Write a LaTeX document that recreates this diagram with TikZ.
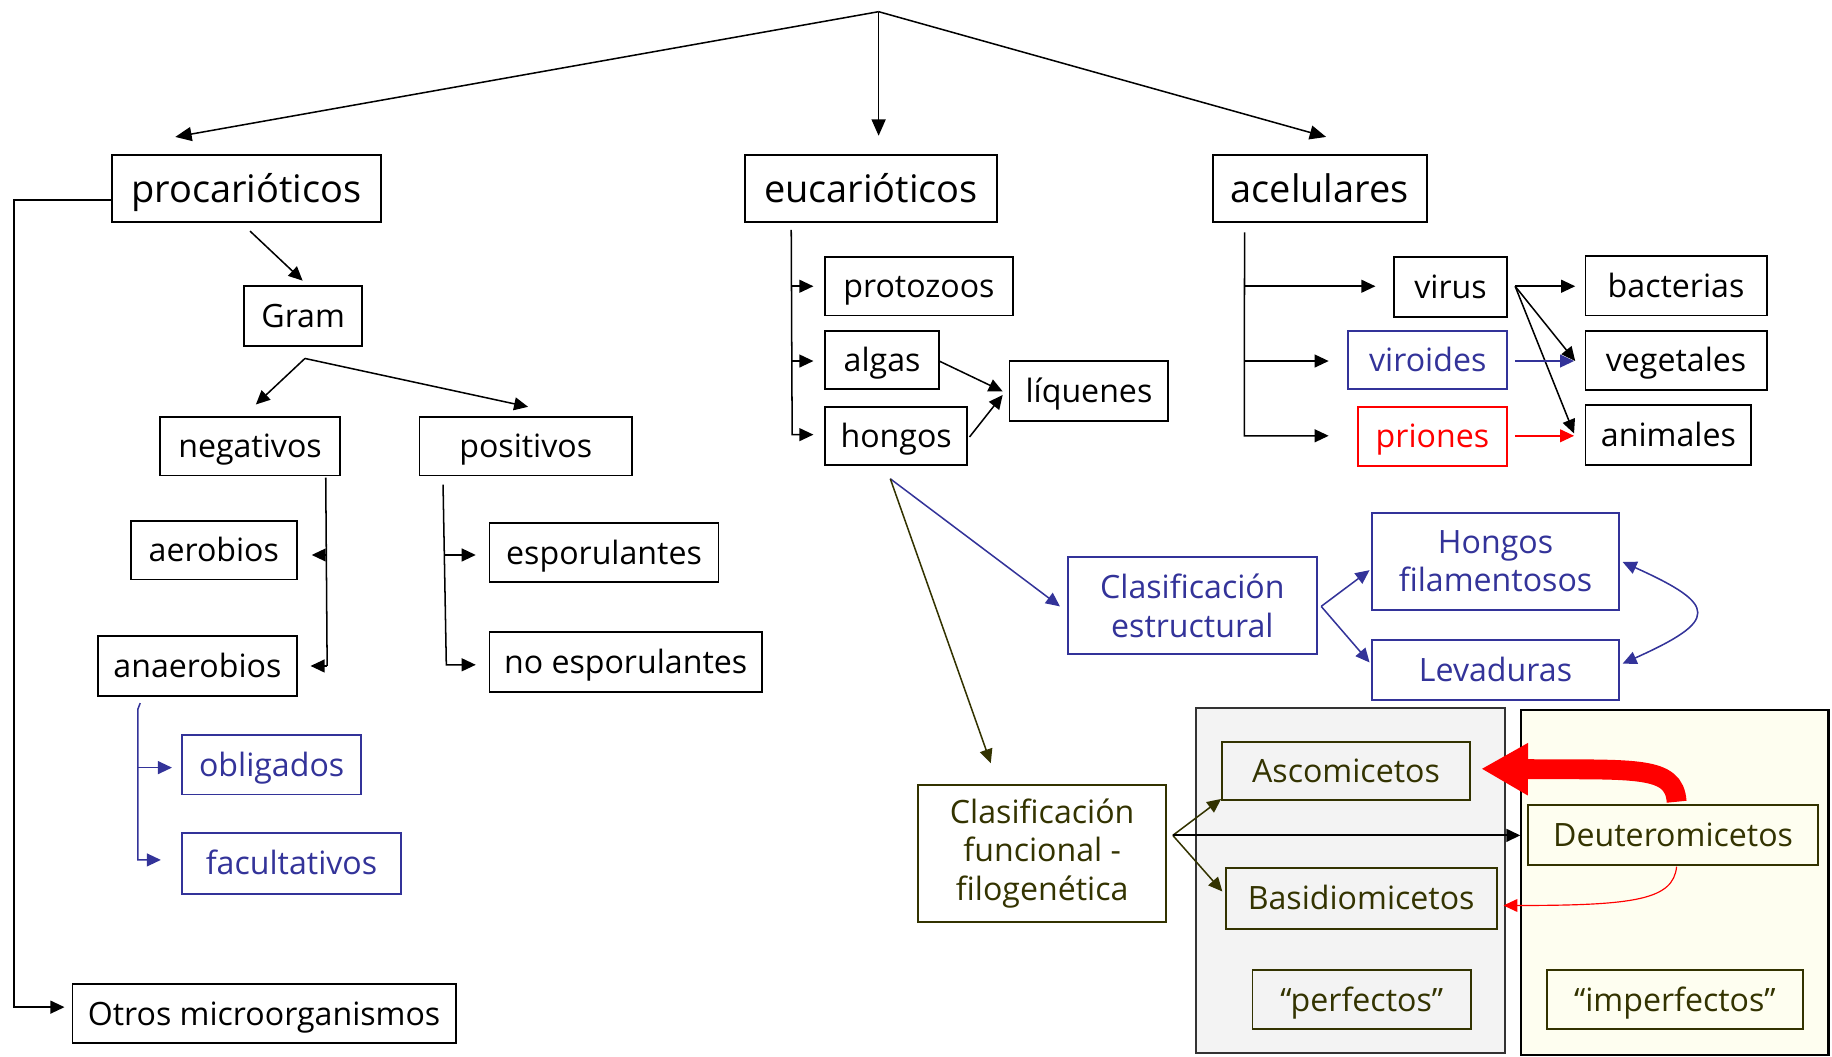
\documentclass[tikz,border=0pt]{standalone}
\usepackage{fontspec}
\setmainfont{Open Sans}
\usetikzlibrary{arrows.meta,calc}
\definecolor{navy}{HTML}{333399}
\definecolor{olivetxt}{HTML}{333300}
\definecolor{panelgray}{HTML}{F3F3F3}
\definecolor{panelcream}{HTML}{FEFEF0}
\newcommand\fsbig{\fontsize{32.5}{36}\selectfont}
\newcommand\fsmid{\fontsize{27.5}{33}\selectfont}
\begin{document}
\begin{tikzpicture}[x=1pt,y=-1pt,
  box/.style={draw, line width=1.6pt, inner sep=0pt, font=\fsmid,
    text height=26pt, text depth=6.3pt},
  multi/.style={align=center, text height=, text depth=},
  bigbox/.style={box, font=\fsbig, text height=30.8pt, text depth=7.4pt},
  bluebox/.style={box, draw=navy, text=navy},
  redbox/.style={box, draw=red, text=red},
  olivebox/.style={box, draw=olivetxt, text=olivetxt},
  panel/.style={draw, line width=1.8pt, inner sep=0pt},
  link/.style={line width=1.3pt},
  conn/.style={link, -{Triangle[length=12pt,width=11pt]}},
  topconn/.style={link, -{Triangle[length=14pt,width=12pt]}},
]
\useasboundingbox (0,0) rectangle (1568,904);

% background panels for the functional classification
\node[panel, draw=black!80, fill=panelgray, minimum width=264pt, minimum height=295pt] (pperf) at (1156,753.5) {};
\node[panel, draw=black, fill=panelcream, minimum width=263pt, minimum height=295pt] (pimperf) at (1433.5,755.5) {};

% first level
\node[bigbox, minimum width=230pt, minimum height=57pt] (proc) at (211,161.5) {procarióticos};
\node[bigbox, minimum width=215pt, minimum height=57pt] (euc) at (745.5,161.5) {eucarióticos};
\node[bigbox, minimum width=183pt, minimum height=57pt] (acel) at (1129.5,161.5) {acelulares};

% prokaryotes
\node[box, minimum width=101pt, minimum height=51pt] (gram) at (259.5,270.5) {Gram};
\node[box, minimum width=154pt, minimum height=50pt] (neg) at (214,382) {negativos};
\node[box, minimum width=182pt, minimum height=50pt] (pos) at (450,382) {positivos};
\node[box, minimum width=142pt, minimum height=50pt] (aer) at (183,471) {aerobios};
\node[box, minimum width=170pt, minimum height=52pt] (anaer) at (169,570) {anaerobios};
\node[box, minimum width=196pt, minimum height=50pt] (espor) at (517,473) {esporulantes};
\node[box, minimum width=233pt, minimum height=51pt] (noesp) at (535.5,566.5) {no esporulantes};
\node[bluebox, minimum width=153pt, minimum height=51pt] (oblig) at (232.5,654.5) {obligados};
\node[bluebox, minimum width=187pt, minimum height=52pt] (facult) at (249.5,739) {facultativos};
\node[box, minimum width=328pt, minimum height=51pt] (otros) at (226,867.5) {Otros microorganismos};

% eukaryotes
\node[box, minimum width=161pt, minimum height=50pt] (proto) at (786.5,245) {protozoos};
\node[box, minimum width=98pt, minimum height=50pt] (algas) at (755,308) {algas};
\node[box, minimum width=122pt, minimum height=50pt] (hongos) at (767,373) {hongos};
\node[box, minimum width=136pt, minimum height=51pt] (liq) at (932,334.5) {líquenes};

% acellular agents
\node[box, minimum width=97pt, minimum height=51pt] (virus) at (1241.5,245.5) {virus};
\node[bluebox, minimum width=136pt, minimum height=50pt] (viro) at (1222,308) {viroides};
\node[redbox, minimum width=128pt, minimum height=51pt] (prion) at (1226,373.5) {priones};
\node[box, minimum width=155pt, minimum height=51pt] (bact) at (1434.5,244.5) {bacterias};
\node[box, minimum width=155pt, minimum height=51pt] (veg) at (1434.5,308.5) {vegetales};
\node[box, minimum width=142pt, minimum height=51pt] (anim) at (1428,372.5) {animales};

% fungi
\node[bluebox, multi, minimum width=213pt, minimum height=83pt] (cest) at (1020.5,518.5) {Clasificación\\estructural};
\node[bluebox, multi, minimum width=212pt, minimum height=83pt] (hfil) at (1280,480.5) {Hongos\\filamentosos};
\node[bluebox, minimum width=212pt, minimum height=51pt] (lev) at (1280,573.5) {Levaduras};
\node[olivebox, multi, minimum width=212pt, minimum height=117pt] (cfun) at (892,730.5) {Clasificación\\funcional -\\filogenética};
\node[olivebox, fill=panelgray, minimum width=212pt, minimum height=50pt] (asco) at (1152,660) {Ascomicetos};
\node[olivebox, fill=panelgray, minimum width=232pt, minimum height=52pt] (basid) at (1165,769) {Basidiomicetos};
\node[olivebox, fill=panelgray, minimum width=187pt, minimum height=51pt] (perf) at (1165.5,855.5) {“perfectos”};
\node[olivebox, fill=panelcream, minimum width=248pt, minimum height=51pt] (deut) at (1432,714.5) {Deuteromicetos};
\node[olivebox, fill=panelcream, minimum width=219pt, minimum height=51pt] (imperf) at (1433.5,855.5) {“imperfectos”};

% top split
\coordinate (apex) at (752,10);
\draw[topconn] (apex) -- ($(proc.north)+(-61,-15)$);
\draw[topconn] (apex) -- ($(euc.north)+(6.5,-16)$);
\draw[topconn] (apex) -- ($(acel.north)+(5.5,-15)$);

% prokaryote branches
\draw[conn] ($(proc.west)+(0,9.5)$) -- (12,171) -- (12,862) -- ($(otros.west)+(-6,-5.5)$);
\draw[conn] ($(proc.south)+(3,7)$) -- ($(gram.north)+(-0.5,-4)$);
\coordinate (gsplit) at ($(gram.south)+(1.5,10)$);
\draw[conn] (gsplit) -- ($(neg.north)+(5,-10)$);
\draw[conn] (gsplit) -- ($(pos.north)+(2,-8)$);

\draw[link] ($(neg.south east)+(-13,1)$) -- (280,570);
\draw[conn] (279,475) -- ($(aer.east)+(12,4)$);
\draw[conn] (280,570) -- ($(anaer.east)+(11,0)$);

\draw[conn] ($(pos.south west)+(21,7)$) -- (382,569) -- ($(noesp.west)+(-11,2.5)$);
\draw[conn] (381,475) -- ($(espor.west)+(-11,2)$);

\draw[conn, navy] ($(anaer.south)+(-49,5)$) -- (118,607) -- (118,736) -- ($(facult.west)+(-17.5,-3)$);
\draw[conn, navy] (118,657) -- ($(oblig.west)+(-8,2.5)$);

% eukaryote branches
\draw[conn] ($(euc.south west)+(40,6)$) -- (678,372) -- ($(hongos.west)+(-9,-1)$);
\draw[conn] (678,245) -- ($(proto.west)+(-9,0)$);
\draw[conn] (678,309) -- ($(algas.west)+(-9,1)$);
\draw[conn] ($(algas.east)+(-1,1)$) -- ($(liq.west)+(-5,0.5)$);
\draw[conn] ($(hongos.east)+(1,1)$) -- ($(liq.west)+(-5,3.5)$);

% acellular branches
\draw[conn] ($(acel.south west)+(28,8)$) -- (1065,373) -- ($(prion.west)+(-24,-0.5)$);
\draw[conn] (1066,245) -- ($(virus.west)+(-15,-0.5)$);
\draw[conn] (1065.5,309) -- ($(viro.west)+(-16,1)$);
\coordinate (vout) at ($(virus.east)+(6,-0.5)$);
\draw[conn] (vout) -- ($(bact.west)+(-8,0.5)$);
\draw[conn] (vout) -- ($(veg.west)+(-8,0.5)$);
\draw[conn] (vout) -- ($(anim.west)+(-9,-1.5)$);
\draw[conn, navy] ($(viro.east)+(6,1)$) -- ($(veg.west)+(-9,0.5)$);
\draw[conn, red] ($(prion.east)+(6,-0.5)$) -- ($(anim.west)+(-9,0.5)$);

% fungi classifications
\coordinate (hout) at ($(hongos.south)+(-5,11)$);
\draw[conn, navy] (hout) -- ($(cest.west)+(-6,0.5)$);
\draw[conn, olivetxt] (hout) -- ($(cfun.north)+(-44,-18)$);
\coordinate (cout) at ($(cest.east)+(3,0.5)$);
\draw[conn, navy] (cout) -- ($(hfil.west)+(-1,7.5)$);
\draw[conn, navy] (cout) -- ($(lev.west)+(-1,-6.5)$);
\draw[link, navy, {Triangle[length=12pt,width=11pt]}-{Triangle[length=12pt,width=11pt]}]
  ($(hfil.east)+(2,0.5)$) .. controls (1471,518) and (1471,531) .. ($(lev.east)+(2,-5.5)$);

\coordinate (fout) at ($(cfun.east)+(5,-15.5)$);
\draw[conn, olivetxt] (fout) -- ($(asco.south west)+(0,-2)$);
\draw[conn, olivetxt] (fout) -- ($(basid.west)+(-2,-6)$);
\draw[conn, line width=1.8pt] (fout) -- ($(deut.west)+(-6,0.5)$);

\draw[red, line width=17pt, -{Triangle[length=40pt,width=42pt]}]
  ($(deut.north)+(3,-2)$) .. controls (1433,655) and (1400,659) .. ($(asco.east)+(9,-2)$);
\draw[red, line width=1pt, -{Triangle[length=12pt,width=11pt]}]
  ($(deut.south)+(3,1)$) .. controls (1432,770) and (1400,775) .. ($(basid.east)+(5,6)$);
\end{tikzpicture}
\end{document}
